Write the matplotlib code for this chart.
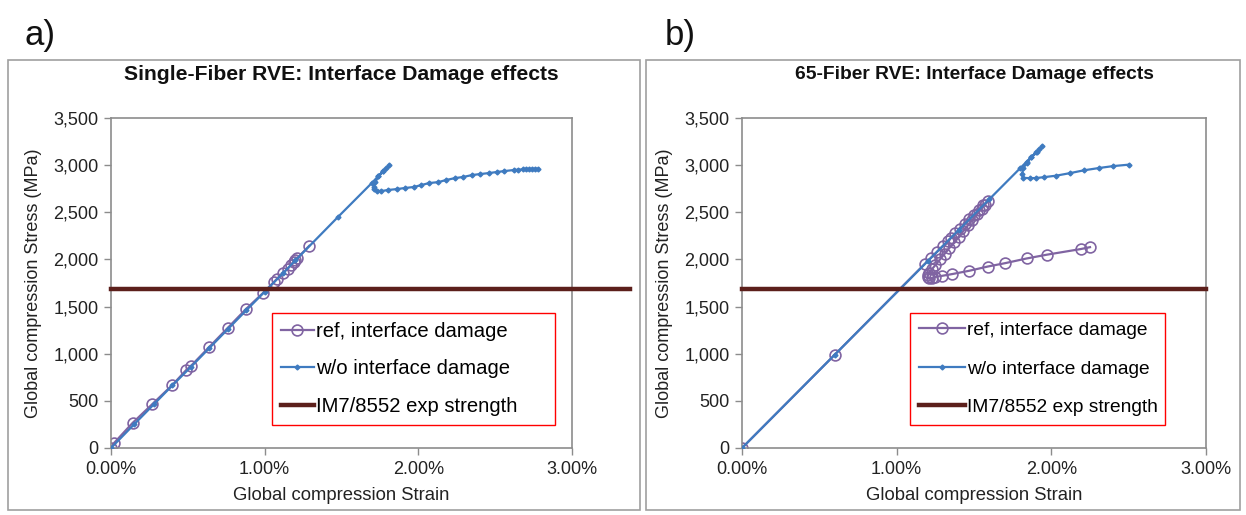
import matplotlib
matplotlib.use("Agg")
import matplotlib.pyplot as plt
from matplotlib.ticker import FuncFormatter, MultipleLocator
from matplotlib.patches import Rectangle

plt.rcParams['font.family'] = ['Liberation Sans', 'DejaVu Sans']

# ---------------- data ----------------
# (a) Single-fiber RVE
a_ref_strain = [0, 0.02, 0.14, 0.27, 0.40, 0.49, 0.52, 0.64, 0.76, 0.88, 0.99, 1.06,
                1.08, 1.12, 1.15, 1.17, 1.19, 1.20, 1.21, 1.29]
a_ref_stress = [0, 53, 265, 467, 669, 828, 870, 1072, 1274, 1476, 1645, 1760,
                1794, 1860, 1900, 1940, 1975, 1995, 2010, 2144]
a_wo_strain = [0, 0.15, 0.28, 0.40, 0.52, 0.64, 0.76, 0.88, 1.00, 1.12, 1.20, 1.48,
               1.70, 1.74, 1.77, 1.79, 1.81, 1.77, 1.74, 1.72, 1.71, 1.71, 1.73,
               1.76, 1.80, 1.86, 1.91, 1.97, 2.02, 2.07, 2.13, 2.18, 2.24, 2.29,
               2.35, 2.40, 2.46, 2.51, 2.56, 2.62, 2.65, 2.68, 2.70, 2.72, 2.74,
               2.76, 2.78]
a_wo_stress = [0, 250, 465, 665, 860, 1060, 1260, 1460, 1657, 1855, 1990, 2455,
               2815, 2885, 2935, 2965, 3000, 2935, 2880, 2820, 2768, 2746, 2728,
               2725, 2736, 2746, 2757, 2768, 2789, 2810, 2820, 2842, 2863, 2874,
               2895, 2905, 2916, 2927, 2937, 2948, 2952, 2955, 2957, 2958, 2959,
               2960, 2960]

# (b) 65-fiber RVE
b_ref_strain = [0, 0.60, 1.18, 1.22, 1.26, 1.30, 1.33, 1.35, 1.38, 1.41, 1.44, 1.47,
                1.50, 1.53, 1.56, 1.59, 1.57, 1.55, 1.52, 1.49, 1.46, 1.43, 1.40,
                1.37, 1.34, 1.31, 1.28, 1.25, 1.23, 1.21, 1.20, 1.20, 1.21, 1.23,
                1.25, 1.29, 1.36, 1.47, 1.59, 1.70, 1.84, 1.97, 2.19, 2.25]
b_ref_stress = [0, 990, 1950, 2015, 2080, 2145, 2195, 2228, 2277, 2327, 2376, 2425,
                2475, 2525, 2574, 2620, 2580, 2540, 2480, 2420, 2360, 2300, 2240,
                2180, 2120, 2060, 2000, 1940, 1900, 1860, 1830, 1810, 1800, 1805,
                1815, 1825, 1845, 1880, 1925, 1960, 2010, 2050, 2110, 2130]
b_wo_strain = [0, 0.60, 1.20, 1.40, 1.60, 1.80, 1.84, 1.87, 1.90, 1.92, 1.94,
               1.91, 1.87, 1.84, 1.82, 1.81, 1.82, 1.86, 1.90, 1.95, 2.03, 2.12,
               2.21, 2.31, 2.40, 2.50]
b_wo_stress = [0, 990, 1980, 2310, 2640, 2970, 3036, 3085, 3135, 3168, 3200,
               3140, 3085, 3020, 2970, 2905, 2865, 2862, 2863, 2872, 2888, 2915,
               2945, 2970, 2990, 3005]

exp_strength = 1690

legend_labels = ["ref, interface damage", "w/o interface damage", "IM7/8552 exp strength"]
titles = ["Single-Fiber RVE: Interface Damage effects", "65-Fiber RVE: Interface Damage effects"]
panel_letters = ["a)", "b)"]
x_label = "Global compression Strain"
y_label = "Global compression Stress (MPa)"

# ---------------- style ----------------
W, H = 1246, 515
fig = plt.figure(figsize=(W / 100, H / 100), dpi=100)

PURPLE = "#8064A2"
BLUE = "#3F7BC0"
BROWN = "#5C1F1B"
GREY = "#8C8C8C"


def fx(px):
    return px / W


def fy(py):
    return 1 - py / H


# panel borders
for (x0, y0, x1, y1) in [(8, 60, 640, 510), (646, 60, 1240, 510)]:
    fig.patches.append(Rectangle((fx(x0), fy(y1)), fx(x1) - fx(x0), fy(y0) - fy(y1),
                                 transform=fig.transFigure, fill=False,
                                 edgecolor="#A0A0A0", linewidth=1.2))

axes_px = [(111, 572), (742, 1206)]
top_px, bot_px = 118, 448

datasets = [
    (a_ref_strain, a_ref_stress, a_wo_strain, a_wo_stress),
    (b_ref_strain, b_ref_stress, b_wo_strain, b_wo_stress),
]
exp_xmax = [(630 - 111) / (572 - 111), 1.0]
legend_box = [(272, 313, 555), (910, 313, 1165)]
legend_fs = [14.6, 13.8]
legend_hl = [1.6, 2.4]
legend_ls = [0.9, 1.1]
title_fs = [15.2, 13.9]
letter_pos = [(40, 35), (680, 35)]

for i, (xl, xr) in enumerate(axes_px):
    ax = fig.add_axes([fx(xl), fy(bot_px), fx(xr) - fx(xl), fy(top_px) - fy(bot_px)])
    rs, rv, ws, wv = datasets[i]
    l1, = ax.plot(rs, rv, color=PURPLE, lw=1.6, marker='o', ms=7.8,
                  mfc='none', mec=PURPLE, mew=1.2, zorder=2)
    l2, = ax.plot(ws, wv, color=BLUE, lw=1.6, marker='D', ms=2.5,
                  mfc=BLUE, mec=BLUE, zorder=3)
    l3 = ax.axhline(exp_strength, xmin=0, xmax=exp_xmax[i], color=BROWN, lw=3.2,
                    clip_on=False, zorder=4)

    ax.set_xlim(0, 3.0)
    ax.set_ylim(0, 3500)
    ax.xaxis.set_major_locator(MultipleLocator(1.0))
    ax.yaxis.set_major_locator(MultipleLocator(500))
    ax.xaxis.set_major_formatter(FuncFormatter(lambda v, p: f"{v:.2f}%"))
    ax.yaxis.set_major_formatter(FuncFormatter(lambda v, p: f"{int(v):,}"))
    ax.tick_params(axis='both', labelsize=13, colors='#222222', length=5,
                   width=1, direction='out', pad=4)
    ax.tick_params(axis='both', color=GREY)
    for s in ax.spines.values():
        s.set_color(GREY)
        s.set_linewidth(1.2)
    ax.set_xlabel(x_label, fontsize=13.3, labelpad=7, color='#222222')
    ax.set_ylabel(y_label, fontsize=13, labelpad=8, color='#222222')

    # legend
    lx0, ly0, lx1 = legend_box[i]
    ax_w = xr - xl
    leg = ax.legend([l1, l2, l3], legend_labels, loc='upper left',
                    bbox_to_anchor=((lx0 - xl) / ax_w, (bot_px - ly0) / (bot_px - top_px),
                                    (lx1 - lx0) / ax_w, 0.0),
                    mode='expand',
                    fontsize=legend_fs[i], frameon=True, fancybox=False, framealpha=1,
                    edgecolor='#FF0000', handlelength=legend_hl[i], handletextpad=0.1,
                    labelspacing=legend_ls[i], borderpad=0.45, borderaxespad=0,
                    markerscale=1.0)
    leg.get_frame().set_linewidth(1.0)

    # title & panel letter
    fig.text(fx((xl + xr) / 2), fy(75), titles[i], ha='center', va='center',
             fontsize=title_fs[i], fontweight='bold', color='#111111')
    fig.text(fx(letter_pos[i][0]), fy(letter_pos[i][1]), panel_letters[i],
             ha='center', va='center', fontsize=25, color='#111111')

fig.savefig("out.png", dpi=100)
